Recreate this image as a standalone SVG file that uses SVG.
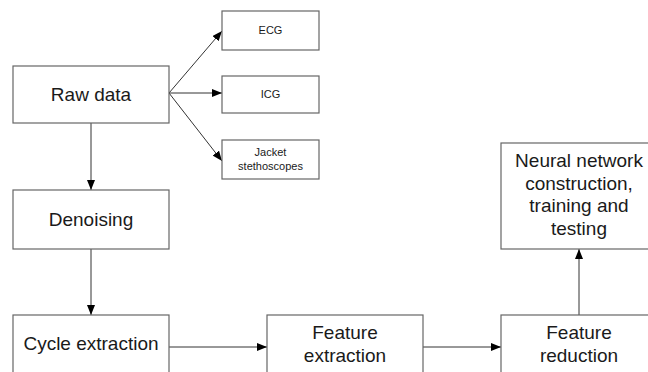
<svg xmlns="http://www.w3.org/2000/svg" width="648" height="372" viewBox="0 0 648 372">
<style>
.box{fill:#fff;stroke:#666;stroke-width:1.2}
.t{font-family:"Liberation Sans",Arial,sans-serif;font-size:19px;fill:#1a1a1a;text-anchor:middle}
.s{font-family:"Liberation Sans",Arial,sans-serif;font-size:11px;fill:#1a1a1a;text-anchor:middle}
.c{stroke:#333;stroke-width:1;fill:none;marker-end:url(#ah)}
</style>
<defs>
<marker id="ah" viewBox="0 0 10 8" refX="10" refY="4" markerWidth="10" markerHeight="8" markerUnits="userSpaceOnUse" orient="auto">
<path d="M0,0 L10,4 L0,8 z" fill="#000"/>
</marker>
</defs>
<rect width="648" height="372" fill="#fff"/>
<g id="connectors">
<line class="c" x1="169" y1="93" x2="222" y2="31"/>
<line class="c" x1="169" y1="93" x2="222" y2="93"/>
<line class="c" x1="169" y1="93" x2="222" y2="161"/>
<line class="c" x1="91" y1="123" x2="91" y2="190"/>
<line class="c" x1="91" y1="249" x2="91" y2="315"/>
<line class="c" x1="169" y1="347" x2="267" y2="347"/>
<line class="c" x1="423" y1="347" x2="501" y2="347"/>
<line class="c" x1="579" y1="315" x2="579" y2="249"/>
</g>
<g id="raw-data">
<rect class="box" x="13" y="66" width="156" height="57"/>
<text class="t" x="91" y="101">Raw data</text>
</g>
<g id="ecg">
<rect class="box" x="222" y="11" width="97" height="39"/>
<text class="s" x="270.5" y="34">ECG</text>
</g>
<g id="icg">
<rect class="box" x="222" y="76" width="97" height="37"/>
<text class="s" x="270.5" y="98">ICG</text>
</g>
<g id="jacket">
<rect class="box" x="222" y="140" width="97" height="39"/>
<text class="s" x="270.5" y="155.5">Jacket</text>
<text class="s" x="270.5" y="170">stethoscopes</text>
</g>
<g id="denoising">
<rect class="box" x="13" y="190" width="156" height="59"/>
<text class="t" x="91" y="226">Denoising</text>
</g>
<g id="cycle-extraction">
<rect class="box" x="13" y="315" width="156" height="70"/>
<text class="t" x="91" y="350">Cycle extraction</text>
</g>
<g id="feature-extraction">
<rect class="box" x="267" y="315" width="156" height="70"/>
<text class="t" x="345" y="339">Feature</text>
<text class="t" x="345" y="361.5">extraction</text>
</g>
<g id="feature-reduction">
<rect class="box" x="501" y="315" width="156" height="70"/>
<text class="t" x="579" y="339">Feature</text>
<text class="t" x="579" y="361.5">reduction</text>
</g>
<g id="neural-network">
<rect class="box" x="501" y="143" width="156" height="106"/>
<text class="t" x="579" y="167">Neural network</text>
<text class="t" x="579" y="189.5">construction,</text>
<text class="t" x="579" y="212">training and</text>
<text class="t" x="579" y="234.5">testing</text>
</g>
</svg>
